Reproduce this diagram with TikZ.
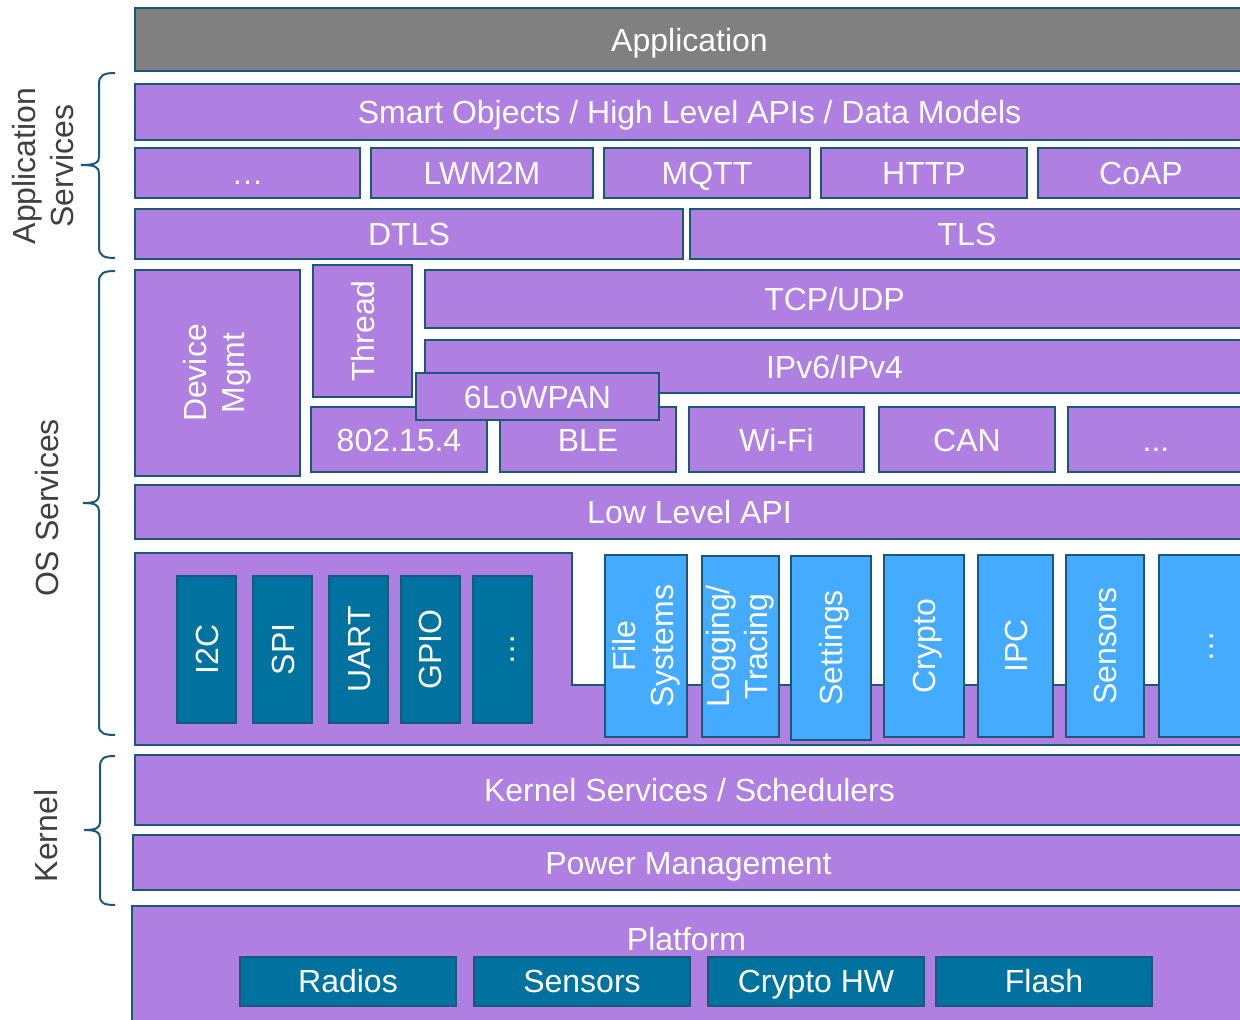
\documentclass[tikz,border=0pt]{standalone}
\usepackage{fontspec}
\setmainfont{Liberation Sans}
\usepackage{tikz}
\definecolor{lay}{RGB}{175, 127, 225}
\definecolor{appc}{RGB}{128, 128, 128}
\definecolor{hw}{RGB}{0, 114, 160}
\definecolor{svc}{RGB}{69, 171, 255}
\definecolor{edge}{RGB}{26, 88, 120}
\definecolor{side}{RGB}{64, 64, 64}

\begin{document}
\begin{tikzpicture}[
every node/.style={inner sep=0pt, outer sep=0pt, font=\fontsize{32}{38}\selectfont},
box/.style={rectangle, draw=edge, line width=2pt, text=white},
layer/.style={box, fill=lay, text height=23pt, text depth=0pt},
hwbox/.style={box, fill=hw, text height=23pt, text depth=0pt},
svcbox/.style={box, fill=svc},
sidelbl/.style={text=side},
brc/.style={draw=edge, line width=2pt}]
\clip (0pt, 0pt) rectangle (1240pt, -1020pt);
\node (app) [layer, fill=appc, minimum width=1109pt, minimum height=63pt] at (689.5pt, -39.5pt) {Application};
\node (smartobj) [layer, minimum width=1109pt, minimum height=56pt] at (689.5pt, -112pt) {Smart Objects / High Level APIs / Data Models};
\node (moreproto) [layer, minimum width=225pt, minimum height=50pt] at (247.5pt, -173pt) {…};
\node (lwm2m) [layer, minimum width=222pt, minimum height=50pt] at (482pt, -173pt) {LWM2M};
\node (mqtt) [layer, minimum width=206pt, minimum height=50pt] at (707pt, -173pt) {MQTT};
\node (http) [layer, minimum width=206pt, minimum height=50pt] at (924pt, -173pt) {HTTP};
\node (coap) [layer, minimum width=206pt, minimum height=50pt] at (1141pt, -173pt) {CoAP};
\node (dtls) [layer, minimum width=548pt, minimum height=50pt] at (409pt, -234pt) {DTLS};
\node (tls) [layer, minimum width=554pt, minimum height=50pt] at (967pt, -234pt) {TLS};
\node (devmgmt) [box, fill=lay, rotate=90, align=center, minimum width=206pt, minimum height=165pt] at (217.5pt, -373pt) {Device\\Mgmt};
\node (thread) [layer, rotate=90, minimum width=132pt, minimum height=99pt] at (362.5pt, -331pt) {Thread};
\node (tcpudp) [layer, minimum width=819pt, minimum height=58pt] at (834.5pt, -299pt) {TCP/UDP};
\node (ipstack) [layer, minimum width=819pt, minimum height=53pt] at (834.5pt, -366.5pt) {IPv6/IPv4};
\node (ieee) [layer, minimum width=176pt, minimum height=65pt] at (399pt, -439.5pt) {802.15.4};
\node (ble) [layer, minimum width=176pt, minimum height=65pt] at (588pt, -439.5pt) {BLE};
\node (wifi) [layer, minimum width=175pt, minimum height=65pt] at (776.5pt, -439.5pt) {Wi-Fi};
\node (can) [layer, minimum width=176pt, minimum height=65pt] at (967pt, -439.5pt) {CAN};
\node (morelink) [layer, minimum width=176pt, minimum height=65pt] at (1156pt, -439.5pt) {...};
\node (sixlowpan) [layer, minimum width=243pt, minimum height=47pt] at (537.5pt, -396.5pt) {6LoWPAN};
\node (lowapi) [layer, minimum width=1109pt, minimum height=54pt] at (689.5pt, -512pt) {Low Level API};
% drivers and subsystems
\draw [fill=lay, draw=edge, line width=2pt] (135pt, -553pt) -- (572pt, -553pt) -- (572pt, -685pt) -- (1244pt, -685pt) -- (1244pt, -745pt) -- (135pt, -745pt) -- cycle;
\node (i2c) [hwbox, rotate=90, minimum width=147pt, minimum height=59pt] at (206.5pt, -649.5pt) {I2C};
\node (spi) [hwbox, rotate=90, minimum width=147pt, minimum height=59pt] at (282.5pt, -649.5pt) {SPI};
\node (uart) [hwbox, rotate=90, minimum width=147pt, minimum height=59pt] at (358.5pt, -649.5pt) {UART};
\node (gpio) [hwbox, rotate=90, minimum width=147pt, minimum height=59pt] at (430pt, -649.5pt) {GPIO};
\node (moredrv) [hwbox, rotate=90, minimum width=147pt, minimum height=59pt] at (502.5pt, -649.5pt) {…};
\node (filesys) [svcbox, rotate=90, align=center, minimum width=182pt, minimum height=82pt] at (646pt, -646pt) {File\\Systems};
\node (logging) [svcbox, rotate=90, align=center, minimum width=181pt, minimum height=77pt] at (740.5pt, -646.5pt) {Logging/\\Tracing};
\node (settings) [svcbox, rotate=90, minimum width=184pt, minimum height=80pt, text height=23pt, text depth=0pt] at (831pt, -648pt) {Settings};
\node (crypto) [svcbox, rotate=90, minimum width=182pt, minimum height=80pt, text height=23pt, text depth=0pt] at (924pt, -646pt) {Crypto};
\node (ipc) [svcbox, rotate=90, minimum width=182pt, minimum height=75pt, text height=23pt, text depth=0pt] at (1015.5pt, -646pt) {IPC};
\node (sensors) [svcbox, rotate=90, minimum width=182pt, minimum height=78pt, text height=23pt, text depth=0pt] at (1105pt, -646pt) {Sensors};
\node (moresvc) [svcbox, rotate=90, minimum width=182pt, minimum height=85pt, text height=23pt, text depth=0pt] at (1201.5pt, -646pt) {…};
% kernel and platform
\node (kernel) [layer, minimum width=1109pt, minimum height=70pt] at (689.5pt, -790pt) {Kernel Services / Schedulers};
\node (power) [layer, minimum width=1111pt, minimum height=55pt] at (688.5pt, -862.5pt) {Power Management};
\node (platform) [layer, minimum width=1112pt, minimum height=124pt] at (688pt, -968pt) {};
\node (platformlbl) [text=white, text height=23pt, text depth=0pt] at (686.5pt, -939pt) {Platform};
\node (radios) [hwbox, minimum width=216pt, minimum height=49pt] at (348pt, -981pt) {Radios};
\node (sensorshw) [hwbox, minimum width=216pt, minimum height=49pt] at (582pt, -981pt) {Sensors};
\node (cryptohw) [hwbox, minimum width=216pt, minimum height=49pt] at (816pt, -981pt) {Crypto HW};
\node (flash) [hwbox, minimum width=216pt, minimum height=49pt] at (1044pt, -981pt) {Flash};
% braces
\draw [brc] (115pt, -73pt) .. controls (104pt, -73pt) and (99pt, -75pt) .. (99pt, -84pt) -- (99pt, -157pt) .. controls (99pt, -163pt) and (95pt, -165pt) .. (81pt, -165pt) .. controls (95pt, -165pt) and (99pt, -167pt) .. (99pt, -173pt) -- (99pt, -247pt) .. controls (99pt, -256pt) and (104pt, -258pt) .. (115pt, -258pt);
\draw [brc] (115pt, -271pt) .. controls (104pt, -271pt) and (99pt, -273pt) .. (99pt, -282pt) -- (99pt, -495pt) .. controls (99pt, -501pt) and (95pt, -503pt) .. (83pt, -503pt) .. controls (95pt, -503pt) and (99pt, -505pt) .. (99pt, -511pt) -- (99pt, -726pt) .. controls (99pt, -733pt) and (104pt, -735pt) .. (115pt, -735pt);
\draw [brc] (115pt, -756pt) .. controls (104pt, -756pt) and (100pt, -758pt) .. (100pt, -767pt) -- (100pt, -822pt) .. controls (100pt, -828pt) and (96pt, -830pt) .. (84pt, -830pt) .. controls (96pt, -830pt) and (100pt, -832pt) .. (100pt, -838pt) -- (100pt, -896pt) .. controls (100pt, -903pt) and (104pt, -905pt) .. (115pt, -905pt);
\node (appsvclbl) [sidelbl, rotate=90, align=center] at (43pt, -166pt) {Application\\Services};
\node (oslbl) [sidelbl, rotate=90] at (47pt, -508pt) {OS Services};
\node (kernlbl) [sidelbl, rotate=90] at (46pt, -836pt) {Kernel};
\end{tikzpicture}
\end{document}
